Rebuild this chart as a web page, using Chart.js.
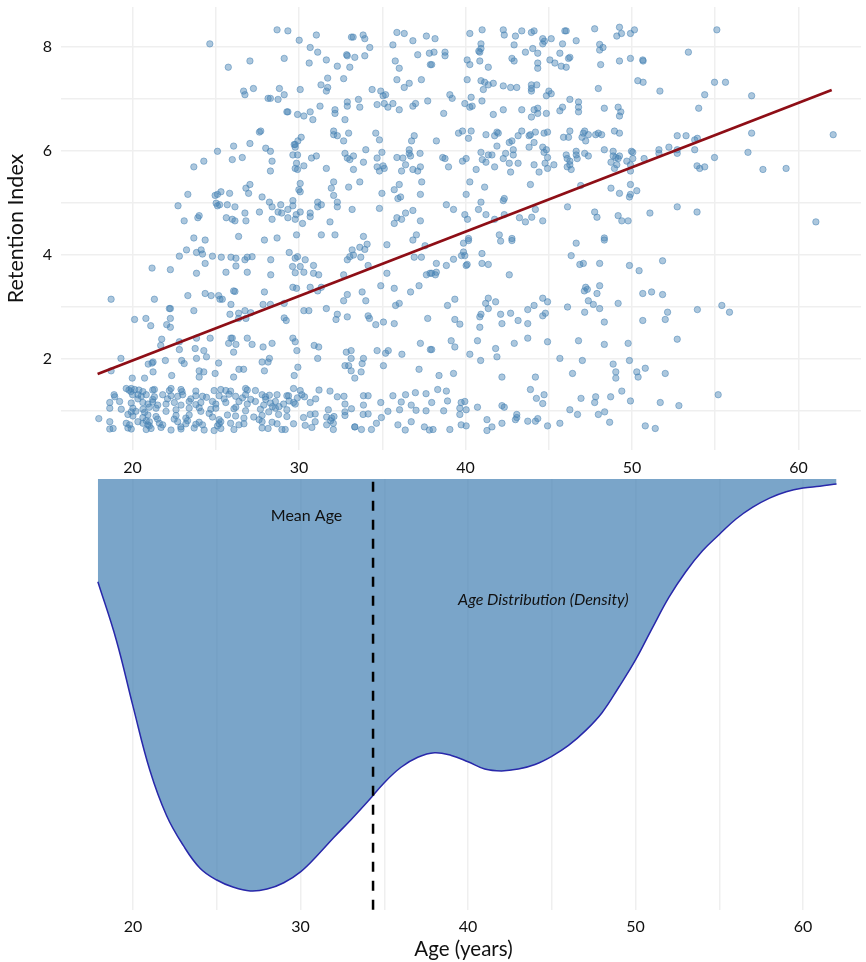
<!DOCTYPE html>
<html>
<head>
<meta charset="utf-8">
<title>Retention Index by Age</title>
<script src="https://cdn.jsdelivr.net/npm/chart.js@4"></script>
<style>
  body { margin: 0; background: #fff; }
  #wrap { position: relative; width: 866px; height: 962px; overflow: hidden; }
  canvas { position: absolute; left: 0; }
  #RetentionScatter { top: 0; }
  #AgeDensity { top: 476px; }
</style>
</head>
<body>
<div id="wrap">
  <canvas id="RetentionScatter" width="866" height="476"></canvas>
  <canvas id="AgeDensity" width="866" height="486"></canvas>
</div>
<script>
//
//
// Data, [age, retention index]
var pointsUpperLeft = [
[28.68,8.33],[29.33,8.31],[30.01,8.13],[31.04,8.23],[33.15,8.19],[33.25,8.19],[33.85,8.23],[33.95,8.16],[35.88,8.28],[36.32,8.26],[36.84,8.12],[37.65,8.21],[34.25,7.99],[35.64,8.04],[37.83,7.88],[24.64,8.06],[30.67,7.99],[31.12,7.90],[29.11,7.78],[27.05,7.73],[25.75,7.61],[30.61,7.69],[31.64,7.75],[32.86,7.85],[32.9,7.83],[33.35,7.80],[33.95,7.83],[32.3,7.63],[33.05,7.61],[35.78,7.73],[36.02,7.59],[37.13,7.85],[37.89,7.66],
[31.72,7.40],[32.68,7.39],[31.32,7.27],[31.72,7.22],[31.64,7.15],[35.88,7.37],[36.62,7.30],[36.32,7.22],[37.35,7.37],[26.67,7.15],[26.75,7.08],[27.26,7.20],[28.82,7.20],[29.11,7.08],[30.07,7.18],[28.14,7.01],[28.28,7.01],[28.74,6.99],[34.39,7.18],[34.91,7.15],[35.05,7.06],[35.2,7.08],[33.57,6.99],[32.9,6.94],[32.9,6.86],[33.65,6.84],[34.69,6.89],[35.12,6.91],[35.34,6.84],[35.64,6.91],[36.02,6.79],[36.84,6.86],[37.0,6.91],[37.73,6.96],[31.26,6.86],[32.16,6.79],[32.16,6.72],[29.27,6.75],[29.33,6.75],[29.91,6.70],[30.29,6.67],[30.67,6.75],[30.83,6.60],[32.76,6.60],
[27.62,6.36],[27.7,6.38],[32.08,6.38],[32.08,6.31],[32.3,6.29],[32.98,6.34],[34.61,6.34],[34.83,6.21],[32.68,6.19],[30.13,6.26],[29.93,6.19],[29.77,6.12],[29.71,6.12],[29.77,6.07],[26.07,6.09],[27.05,6.14],[28.0,6.05],[28.28,5.99],[25.1,5.99],[34.01,6.02],[36.62,6.02],[36.62,5.95],[36.7,5.90],[36.92,6.29],[36.76,6.19],[37.27,5.95],[29.63,5.92],[29.91,5.92],[30.75,5.86],[31.04,5.90],[32.76,5.95],[32.9,5.86],[33.05,5.83],[33.27,5.90],[34.98,5.97],[34.69,5.86],[35.88,5.87],[36.24,5.86],[36.4,5.73],[25.99,5.83],[26.59,5.87],[28.38,5.80],[24.28,5.80],[23.68,5.69],[29.85,5.76],[29.77,5.66],[29.91,5.64],[30.29,5.71],[31.64,5.66],[33.87,5.78],[33.27,5.64],[34.69,5.69],[35.05,5.71],[35.12,5.66],[34.83,5.61],[36.16,5.61],[36.84,5.64],[37.13,5.61],[37.29,5.69],[28.28,5.61],
[30.07,5.37],[27.05,5.35],[32.08,5.40],[33.65,5.40],[37.37,5.40],[36.02,5.35],[31.94,5.28],[32.98,5.30],[26.81,5.28],[29.99,5.25],[30.07,5.21],[35.72,5.25],[26.97,5.18],[25.31,5.21],[25.1,5.16],[24.96,5.14],[25.83,5.18],[23.32,5.16],[32.08,5.14],[34.98,5.18],[37.29,5.16],[35.94,5.08],[36.1,5.11],[27.78,5.11],[29.63,5.04],[28.22,5.01],[31.12,5.01],[32.3,5.01],[22.73,4.94],[25.02,4.99],[25.1,4.94],[25.23,4.96],[25.69,4.96],[26.15,4.92],[28.38,4.92],[28.9,4.96],[29.63,4.94],[29.33,4.87],[31.12,4.92],[31.34,4.96],[32.3,4.92],[33.19,4.87],[34.83,4.89],[36.84,4.85],
[24.0,4.75],[23.92,4.71],[23.1,4.65],[25.63,4.71],[25.99,4.68],[26.15,4.65],[26.75,4.80],[26.81,4.65],[27.62,4.82],[28.74,4.82],[28.96,4.80],[28.38,4.68],[29.33,4.71],[29.77,4.68],[29.83,4.77],[30.07,4.82],[30.21,4.60],[30.67,4.80],[30.67,4.73],[31.86,4.63],[36.4,4.80],[35.88,4.71],[36.16,4.68],[35.72,4.60],[37.29,4.65],[23.68,4.32],[24.36,4.28],[26.37,4.35],[27.92,4.28],[28.68,4.32],[29.85,4.38],[31.34,4.38],[32.16,4.38],[33.87,4.35],[37.05,4.38],[36.84,4.28]
];

var pointsUpperRight = [
[38.17,8.16],[40.26,8.26],[41.0,8.33],[42.27,8.33],[42.33,8.23],[43.0,8.21],[43.38,8.31],[43.96,8.28],[44.12,8.31],[44.64,8.16],[45.15,8.16],[44.74,8.11],[44.64,8.06],[45.83,8.06],[45.97,8.31],[46.05,8.31],[46.65,8.12],[47.76,8.35],[49.25,8.38],[49.37,8.26],[49.09,8.21],[49.91,8.26],[50.15,8.33],[55.1,8.33],[48.06,8.05],[48.26,7.99],[48.06,7.94],[53.39,7.90],[40.93,8.06],[40.93,7.97],[40.8,7.92],[40.86,7.90],[38.11,7.90],[38.77,7.90],[38.77,7.83],[42.92,8.04],[44.04,7.97],[43.6,7.90],[44.34,7.88],[45.67,7.88],[46.27,7.80],[46.19,7.78],[40.1,7.75],[40.86,7.73],[40.26,7.66],[37.97,7.66],[41.37,7.61],[42.79,7.78],[42.92,7.73],[44.34,7.69],[44.34,7.59],[45.07,7.75],[45.37,7.69],[45.75,7.63],[46.05,7.61],[48.12,7.66],[49.25,7.73],[49.91,7.78],[50.65,7.75],[50.67,7.73],
[40.1,7.37],[40.93,7.35],[41.15,7.32],[41.37,7.27],[41.67,7.30],[42.27,7.25],[42.71,7.22],[43.08,7.22],[43.96,7.27],[44.28,7.27],[43.96,7.20],[43.96,7.15],[41.07,7.18],[45.01,7.15],[45.15,7.10],[44.86,7.06],[47.98,7.20],[50.35,7.35],[50.67,7.32],[54.96,7.32],[55.62,7.32],[51.68,7.15],[54.37,7.08],[57.19,7.06],[39.06,7.08],[39.2,7.01],[40.34,7.03],[40.99,6.96],[39.96,6.91],[40.26,6.84],[40.4,6.86],[38.69,6.72],[41.67,6.70],[42.27,6.79],[43.38,6.79],[44.12,6.79],[44.34,6.82],[44.34,6.72],[43.96,6.65],[44.86,6.72],[45.67,6.77],[45.83,6.84],[46.27,6.99],[46.79,6.94],[46.79,6.84],[46.79,6.75],[48.34,6.82],[49.17,6.84],[49.33,6.75],[49.25,6.67],[54.01,6.82],
[39.58,6.34],[39.82,6.38],[40.34,6.38],[40.18,6.24],[38.25,6.19],[41.23,6.31],[41.75,6.29],[41.89,6.36],[41.97,6.34],[43.38,6.38],[43.16,6.29],[42.79,6.19],[42.63,6.16],[43.82,6.29],[43.9,6.31],[44.2,6.36],[44.72,6.34],[44.93,6.36],[45.89,6.26],[46.19,6.26],[46.27,6.38],[47.0,6.26],[47.08,6.34],[47.16,6.38],[47.22,6.19],[47.38,6.31],[47.82,6.31],[47.98,6.34],[48.18,6.31],[48.95,6.38],[49.25,6.34],[52.72,6.29],[53.25,6.29],[53.77,6.21],[53.93,6.24],[57.19,6.34],[62.09,6.31],
[41.89,6.09],[43.82,6.07],[44.12,6.16],[44.64,6.07],[44.86,6.02],[44.72,5.97],[44.93,5.87],[48.34,6.02],[48.87,5.99],[49.97,5.99],[50.05,5.97],[51.62,6.02],[52.22,6.07],[52.72,6.02],[53.77,6.02],[56.97,5.97],[54.96,5.87],[51.62,5.95],[52.72,5.95],[50.73,5.85],[50.05,5.85],[38.63,5.87],[38.77,5.85],[40.04,5.85],[39.82,5.80],[38.98,5.69],[40.93,5.97],[41.37,5.92],[41.59,5.92],[42.41,5.95],[42.87,6.02],[42.87,5.92],[42.27,5.85],[41.01,5.83],[41.23,5.78],[41.75,5.69],[42.63,5.76],[43.16,5.76],[40.64,5.64],[42.71,5.59],[44.12,5.73],[44.78,5.76],[44.93,5.66],[44.42,5.59],[45.31,5.73],[46.05,5.92],[46.11,5.85],[46.27,5.80],[46.27,5.73],[46.11,5.69],[46.35,5.64],[46.65,5.99],[46.65,5.92],[46.71,5.85],[47.16,5.95],[47.38,5.90],[48.87,5.90],[49.03,5.87],[49.25,5.90],[49.17,5.85],[48.74,5.78],[49.09,5.73],[48.95,5.66],[49.69,5.80],[49.91,5.73],[49.91,5.61],[53.91,5.71],[54.07,5.66],[54.37,5.69],[57.87,5.64],[59.26,5.66],
[40.26,5.40],[41.15,5.30],[40.04,5.16],[43.9,5.35],[48.74,5.28],[46.92,5.33],[49.91,5.35],[50.29,5.23],[49.25,5.18],[49.91,5.16],[49.85,5.11],[38.85,4.96],[39.28,4.87],[39.96,4.77],[40.12,4.68],[40.78,4.87],[40.93,5.01],[41.23,4.77],[41.75,4.68],[42.27,5.04],[42.33,5.08],[42.33,4.77],[43.24,4.71],[43.6,4.63],[43.98,4.72],[44.2,4.87],[44.64,4.65],[46.13,4.92],[47.76,4.82],[47.9,4.72],[49.17,4.75],[49.39,4.65],[49.77,4.65],[51.08,4.80],[52.72,4.92],[53.91,4.82],[61.05,4.63],[42.03,4.38],[40.18,4.31],[42.79,4.31],[48.34,4.32]
];

var pointsLowerLeft = [
[23.24,4.09],[23.84,4.04],[24.12,4.09],[24.2,4.01],[24.8,3.97],[25.33,3.95],[25.91,3.95],[26.21,3.93],[26.75,3.90],[26.89,3.95],[27.18,3.96],[28.3,3.90],[24.36,3.83],[26.21,3.78],[29.41,4.04],[29.77,3.93],[29.91,3.96],[30.37,3.90],[29.61,3.77],[30.07,3.77],[30.87,3.79],[29.77,3.65],[30.29,3.66],[30.87,3.64],[31.18,3.61],[32.9,3.90],[33.19,4.09],[33.05,3.96],[33.27,3.99],[33.65,4.14],[33.95,4.10],[34.09,4.20],[33.71,3.95],[34.15,3.79],[32.68,3.61],[35.28,3.64],[35.28,4.19],[36.92,3.95],[37.35,3.95],[37.57,4.17],[37.65,3.61],[37.87,3.64],[21.17,3.74],[22.27,3.71],[22.81,3.97],[23.84,3.64],[25.61,3.66],[26.89,3.66],[28.3,3.61],
[18.71,3.14],[21.31,3.14],[23.32,3.21],[24.36,3.25],[24.72,3.21],[25.17,3.21],[25.25,3.14],[25.39,3.14],[25.91,3.04],[26.07,3.30],[26.15,3.29],[27.92,3.28],[27.84,3.04],[28.28,3.04],[29.11,3.06],[29.63,3.37],[29.85,3.35],[30.67,3.37],[31.12,3.30],[31.34,3.37],[32.9,3.23],[32.68,3.11],[33.79,3.28],[34.01,3.11],[34.91,3.40],[35.72,3.35],[36.7,3.28],[37.21,3.40],[35.8,3.02],[36.02,3.06],[22.27,2.96],[22.21,2.96],[23.68,2.92],[25.85,2.85],[26.37,2.87],[26.75,2.92],[27.1,2.88],[26.37,2.77],[26.81,2.77],[30.29,2.92],[30.59,2.92],[31.64,2.96],[32.3,2.85],[32.22,2.75],[32.9,2.80],[34.15,2.82],[34.23,2.77],[34.61,2.65],[35.07,2.70],[35.72,2.67],[37.73,2.77],[29.11,2.78],[29.23,2.73],[20.12,2.75],[20.8,2.77],[21.09,2.63],[22.05,2.65],[22.27,2.60],[22.27,2.77],
[21.75,2.37],[21.69,2.25],[22.81,2.32],[23.84,2.39],[24.66,2.39],[25.77,2.29],[25.91,2.39],[25.99,2.39],[26.21,2.27],[26.89,2.39],[27.18,2.27],[27.84,2.22],[28.38,2.29],[29.63,2.39],[29.77,2.32],[30.91,2.25],[31.18,2.22],[32.84,2.12],[33.13,2.15],[34.69,2.15],[35.2,2.10],[35.36,2.15],[36.18,2.08],[37.29,2.29],[37.89,2.17],[22.81,2.17],[23.76,2.19],[24.28,2.15],[26.07,2.12],[29.87,2.15],[19.3,2.0],[20.94,1.89],[21.17,1.91],[21.23,1.93],[21.97,1.96],[22.95,1.96],[23.1,1.90],[23.84,2.0],[24.44,2.03],[25.17,1.91],[27.78,1.93],[28.14,1.93],[28.22,2.0],[31.12,2.0],[33.13,2.0],[33.87,2.0],[33.79,1.90],[32.76,1.86],[32.98,1.86],[35.07,1.86],[26.39,1.79],[26.67,1.79],[27.92,1.76],[29.93,1.83],[33.13,1.76],[33.73,1.74],[37.21,1.79],[21.23,1.74],[24.0,1.76],[24.28,1.74],[24.96,1.71],[24.0,1.64],[22.35,1.67],[29.71,1.67],[19.98,1.62],[20.72,1.62],[26.07,1.64],[33.35,1.62],[18.71,1.76]
];

var pointsLowerRight = [
[39.88,4.22],[40.18,4.27],[42.11,4.26],[42.79,4.27],[46.65,4.22],[48.34,4.28],[39.88,4.05],[39.76,3.98],[39.96,3.98],[40.99,4.02],[46.35,3.98],[38.25,3.83],[38.85,3.79],[39.28,3.91],[40.04,3.79],[40.1,3.81],[40.99,3.83],[41.37,3.81],[51.84,3.88],[46.87,3.81],[47.08,3.83],[48.06,3.83],[49.85,3.79],[50.43,3.69],[42.63,3.61],[37.97,3.64],[38.19,3.61],[38.25,3.66],[47.22,3.37],[47.32,3.33],[47.14,3.30],[48.06,3.40],[47.9,3.25],[50.65,3.25],[51.18,3.28],[51.84,3.23],
[39.36,3.14],[38.92,3.02],[41.37,3.16],[41.21,3.06],[41.81,3.09],[41.37,2.96],[44.64,3.16],[44.93,3.09],[44.12,3.02],[43.74,2.94],[46.13,2.99],[47.38,3.11],[47.68,3.04],[48.06,2.96],[49.17,3.06],[53.93,2.94],[55.4,3.02],[55.86,2.89],[47.16,2.89],[52.14,2.89],[42.11,2.85],[42.71,2.87],[40.93,2.85],[40.86,2.80],[44.64,2.82],[44.8,2.87],[39.36,2.75],[39.66,2.66],[42.19,2.67],[43.16,2.73],[43.74,2.67],[40.86,2.60],[48.34,2.70],[50.65,2.73],[52.0,2.75],
[39.14,2.34],[39.36,2.22],[40.72,2.34],[41.81,2.19],[42.93,2.29],[43.74,2.39],[44.93,2.32],[46.79,2.34],[48.34,2.27],[49.77,2.29],[52.72,2.37],[37.97,2.17],[40.26,2.08],[41.89,2.03],[40.91,1.96],[45.67,2.0],[47.02,1.96],[49.85,1.96],[48.87,1.89],[49.03,1.74],[49.03,1.62],[50.29,1.74],[50.37,1.64],[50.8,1.81],[52.0,1.71],[46.43,1.71],[38.41,1.67],[39.28,1.71],[42.19,1.64],[44.2,1.64],
[38.33,1.40],[38.85,1.37],[43.9,1.40],[49.39,1.37],[55.18,1.30],[44.72,1.30],[44.26,1.23],[44.64,1.13],[46.94,1.23],[47.82,1.26],[47.76,1.15],[48.72,1.26],[49.91,1.18],[51.7,1.15],[52.82,1.09],[37.97,1.15],[38.92,1.18],[39.74,1.15],[39.96,1.17],[39.66,1.04],[40.04,1.01],[40.72,1.06],[42.19,1.09],[42.33,1.06],[38.69,0.99],[39.66,0.92],[46.27,1.01],[46.73,0.92],[47.98,0.92],[48.36,0.97],[48.66,0.77],[41.29,0.82],[42.19,0.75],[43.08,0.92],[43.08,0.86],[43.0,0.82],[43.74,0.79],[44.2,0.79],[44.34,0.84],[44.93,0.70],[45.67,0.75],[39.74,0.72],[40.04,0.70],[38.05,0.63],[39.06,0.63],[41.29,0.61],[41.59,0.68],[50.8,0.70],[51.4,0.65]
];

var pointsLowBand = [
[19.62,1.42],[19.78,1.39],[19.92,1.42],[20.12,1.40],[20.38,1.39],[20.62,1.36],[21.21,1.39],[21.31,1.40],[22.21,1.38],[22.31,1.42],[22.91,1.40],[22.97,1.36],[23.8,1.37],[24.9,1.38],[25.3,1.40],[25.6,1.38],[25.89,1.37],[26.79,1.42],[26.89,1.39],[27.38,1.38],[29.67,1.42],[30.07,1.38],[31.2,1.39],[31.86,1.37],
[18.89,1.30],[18.93,1.26],[20.32,1.30],[20.52,1.27],[20.82,1.30],[21.31,1.26],[21.81,1.30],[22.31,1.28],[22.71,1.27],[23.01,1.30],[23.8,1.28],[24.2,1.27],[24.44,1.25],[25.2,1.28],[25.79,1.31],[26.19,1.27],[26.79,1.30],[27.78,1.30],[27.98,1.26],[28.22,1.29],[28.68,1.30],[29.27,1.28],[29.37,1.28],[30.17,1.30],[30.33,1.26],[32.3,1.26],[32.7,1.27],[33.87,1.28],[34.15,1.28],[35.64,1.28],[36.4,1.30],[36.99,1.34],[37.63,1.32],
[18.63,1.15],[19.22,1.17],[19.92,1.14],[20.62,1.15],[20.92,1.12],[21.21,1.16],[21.51,1.10],[22.01,1.12],[22.51,1.15],[22.91,1.10],[23.4,1.17],[23.8,1.11],[24.1,1.15],[24.8,1.17],[25.0,1.12],[25.6,1.15],[26.39,1.17],[26.89,1.12],[27.38,1.17],[27.88,1.10],[28.28,1.14],[28.58,1.17],[29.07,1.12],[29.67,1.15],[29.77,1.12],[30.67,1.15],[34.91,1.15],[32.76,1.12],[33.87,1.10],[36.14,1.16],[36.74,1.10],
[18.63,1.04],[19.32,1.02],[20.02,1.04],[19.92,0.97],[20.62,1.02],[21.41,1.04],[22.01,0.98],[22.61,1.01],[23.4,1.04],[24.1,0.98],[24.7,1.02],[25.0,1.04],[26.09,1.03],[26.79,0.99],[27.68,1.02],[28.18,0.97],[28.58,1.04],[29.27,1.01],[31.76,1.01],[32.76,0.97],[33.15,1.03],[35.34,0.98],[36.04,1.01],[37.03,1.00],[37.63,0.99],
[19.72,0.92],[20.02,0.89],[20.62,0.86],[20.92,0.91],[21.41,0.88],[22.61,0.90],[23.2,0.85],[23.4,0.91],[24.8,0.87],[25.7,0.91],[26.19,0.89],[26.69,0.85],[27.28,0.87],[27.78,0.90],[28.77,0.92],[29.27,0.88],[30.27,0.86],[30.67,0.92],[30.97,0.93],[31.66,0.87],[31.96,0.85],[32.76,0.90],[33.85,0.92],[34.15,0.93],[34.95,0.86],
[17.97,0.84],[18.63,0.78],[19.62,0.75],[19.82,0.72],[20.32,0.78],[20.62,0.75],[20.92,0.72],[21.61,0.75],[21.81,0.72],[22.71,0.78],[23.2,0.74],[23.8,0.73],[24.0,0.77],[24.2,0.72],[25.2,0.74],[25.3,0.78],[25.89,0.75],[26.39,0.72],[26.69,0.74],[27.78,0.78],[28.38,0.77],[28.68,0.74],[29.67,0.74],[30.37,0.71],[30.97,0.78],[31.66,0.72],[32.06,0.75],[34.65,0.75],[33.35,0.68],[35.94,0.72],[36.74,0.78],
[18.63,0.64],[18.83,0.65],[19.72,0.66],[19.92,0.64],[20.82,0.63],[21.11,0.65],[21.71,0.67],[22.31,0.62],[22.91,0.64],[23.7,0.66],[24.3,0.62],[24.9,0.61],[25.3,0.65],[26.09,0.63],[27.78,0.66],[28.14,0.65],[28.97,0.63],[29.17,0.63],[30.77,0.67],[32.06,0.63],[33.35,0.68],[33.75,0.63],[34.35,0.63],[36.38,0.62],[37.53,0.68],[37.83,0.62],
[20.72,0.96],[20.82,0.80],[21.01,0.70],[21.21,1.21],[21.0,1.06],[20.32,1.22],[20.0,1.30],[19.9,1.36],[20.2,0.98],[21.01,0.78],[21.5,0.83],[22.1,1.22],[22.5,0.83],[22.9,0.68],[23.3,0.80],[23.5,1.22],[24.0,1.05],[24.6,0.94],[25.1,0.70],[25.2,0.82],[25.5,1.22],[26.2,1.06],[26.6,1.24],[27.1,1.21],[27.6,0.82],[28.0,1.21],[28.4,1.07],[28.8,1.07],[29.4,1.18],[29.9,1.24],[31.0,1.22],[31.9,0.80],[32.1,0.88]
];

var fitAges = [17.9, 62];
var fitValues = [1.70, 7.17];

var densityAges = [17.9,19,20,21,22,23,24,25,26,27,28,29,30,31,32,33,34,35,36,37,38,39,40,41,42,43,44,45,46,47,48,49,50,51,52,53,54,55,56,57,58,59,60,61,62];
var densityValues = [0.0113,0.0177,0.0250,0.0320,0.0370,0.0403,0.0428,0.0441,0.0449,0.0453,0.0451,0.0444,0.0432,0.0414,0.0394,0.0375,0.0355,0.0334,0.0317,0.0306,0.0301,0.0304,0.0311,0.0319,0.0321,0.0319,0.0314,0.0305,0.0293,0.0277,0.0257,0.0229,0.0199,0.0164,0.0130,0.0102,0.0079,0.0061,0.0044,0.0031,0.0021,0.0014,0.0010,0.0008,0.00055];

var meanAge = 34.33;

var xGridValues = [20, 25, 30, 35, 40, 45, 50, 55, 60];
var xTickLabels = [20, 30, 40, 50, 60];
var yGridValues = [1, 2, 3, 4, 5, 6, 7, 8];
var yTickLabels = [2, 4, 6, 8];

var font_family = 'Lato, sans-serif';
var grid_color = '#efefef';

//
//
// Shared X Axis
function xAxis(title_text, axis_height, tick_padding){
  return {
    type: 'linear',
    min: 15.7,
    max: 63.76,
    border: { display: false },
    grid: { color: grid_color, lineWidth: 1.5, drawTicks: false },
    afterBuildTicks: function(scale){
      scale.ticks = xGridValues.map(function(v){ return { value: v }; });
    },
    afterFit: function(scale){
      scale.height = axis_height;
      scale.paddingLeft = 0;
      scale.paddingRight = 0;
    },
    ticks: {
      autoSkip: false,
      maxRotation: 0,
      padding: tick_padding,
      color: '#111',
      font: { family: font_family, size: 16 },
      callback: function(value){
        return xTickLabels.indexOf(value) !== -1 ? String(value) : '';
      }
    },
    title: {
      display: title_text !== '',
      text: title_text,
      color: '#111',
      padding: { top: 0, bottom: 0 },
      font: { family: font_family, size: 20.5 }
    }
  };
}

//
//
// Retention Index Scatter
new Chart(document.getElementById('RetentionScatter').getContext('2d'), {
  type: 'scatter',
  data: {
    datasets: [{
      type: 'line',
      data: fitAges.map(function(a, i){ return { x: a, y: fitValues[i] }; }),
      borderColor: 'rgb(142, 14, 22)',
      borderWidth: 2.8,
      pointRadius: 0,
      fill: false,
      order: 0
    }, {
      data: pointsUpperLeft.concat(pointsUpperRight, pointsLowerLeft, pointsLowerRight, pointsLowBand).map(function(p){
        return { x: p[0], y: p[1] };
      }),
      backgroundColor: 'rgba(70, 130, 180, 0.45)',
      borderColor: 'rgba(70, 130, 180, 0.5)',
      borderWidth: 1,
      pointRadius: 3.2,
      order: 1
    }]
  },
  options: {
    responsive: false,
    animation: false,
    layout: { padding: { top: 7, left: 0, right: 0, bottom: 0 } },
    plugins: { legend: { display: false }, tooltip: { enabled: false } },
    scales: {
      x: xAxis('', 26, 8),
      y: {
        min: 0.235,
        max: 8.77,
        border: { display: false },
        grid: { color: grid_color, lineWidth: 1.5, drawTicks: false },
        afterBuildTicks: function(scale){
          scale.ticks = yGridValues.map(function(v){ return { value: v }; });
        },
        afterFit: function(scale){
          scale.width = 61;
          scale.paddingTop = 0;
          scale.paddingBottom = 0;
        },
        ticks: {
          autoSkip: false,
          padding: 9,
          color: '#111',
          font: { family: font_family, size: 16 },
          callback: function(value){
            return yTickLabels.indexOf(value) !== -1 ? String(value) : '';
          }
        },
        title: {
          display: true,
          text: 'Retention Index',
          color: '#111',
          padding: { top: 3, bottom: 0 },
          font: { family: font_family, size: 21.5 }
        }
      }
    }
  }
});

//
//
// Text Inside the Density Panel
var densityNotes = {
  id: 'densityNotes',
  afterDatasetsDraw: function(chart){
    var ctx = chart.ctx;
    ctx.save();
    ctx.fillStyle = '#111';
    ctx.textAlign = 'center';
    ctx.textBaseline = 'middle';
    ctx.font = '16px ' + font_family;
    ctx.fillText('Mean Age', chart.scales.x.getPixelForValue(30.36), chart.scales.y.getPixelForValue(0.00405));
    ctx.font = 'italic 16px ' + font_family;
    ctx.fillText('Age Distribution (Density)', chart.scales.x.getPixelForValue(44.5), chart.scales.y.getPixelForValue(0.0133));
    ctx.restore();
  }
};

//
//
// Age Density, Hanging From the Top
new Chart(document.getElementById('AgeDensity').getContext('2d'), {
  type: 'scatter',
  data: {
    datasets: [{
      data: densityAges.map(function(a, i){ return { x: a, y: densityValues[i] }; }),
      showLine: true,
      tension: 0.4,
      borderColor: 'rgb(40, 40, 170)',
      borderWidth: 1.5,
      pointRadius: 0,
      backgroundColor: 'rgba(70, 130, 180, 0.72)',
      fill: 'origin',
      order: 1
    }, {
      data: [{ x: meanAge, y: 0.0003 }, { x: meanAge, y: 0.0474 }],
      showLine: true,
      borderColor: '#000',
      borderWidth: 2.5,
      borderDash: [10, 9],
      pointRadius: 0,
      fill: false,
      order: 0
    }]
  },
  options: {
    responsive: false,
    animation: false,
    layout: { padding: { top: 3, left: 61, right: 0, bottom: 0 } },
    plugins: { legend: { display: false }, tooltip: { enabled: false } },
    scales: {
      x: xAxis('Age (years)', 52, 7),
      y: {
        display: false,
        reverse: true,
        min: 0,
        max: 0.0474
      }
    }
  },
  plugins: [densityNotes]
});
</script>
</body>
</html>
